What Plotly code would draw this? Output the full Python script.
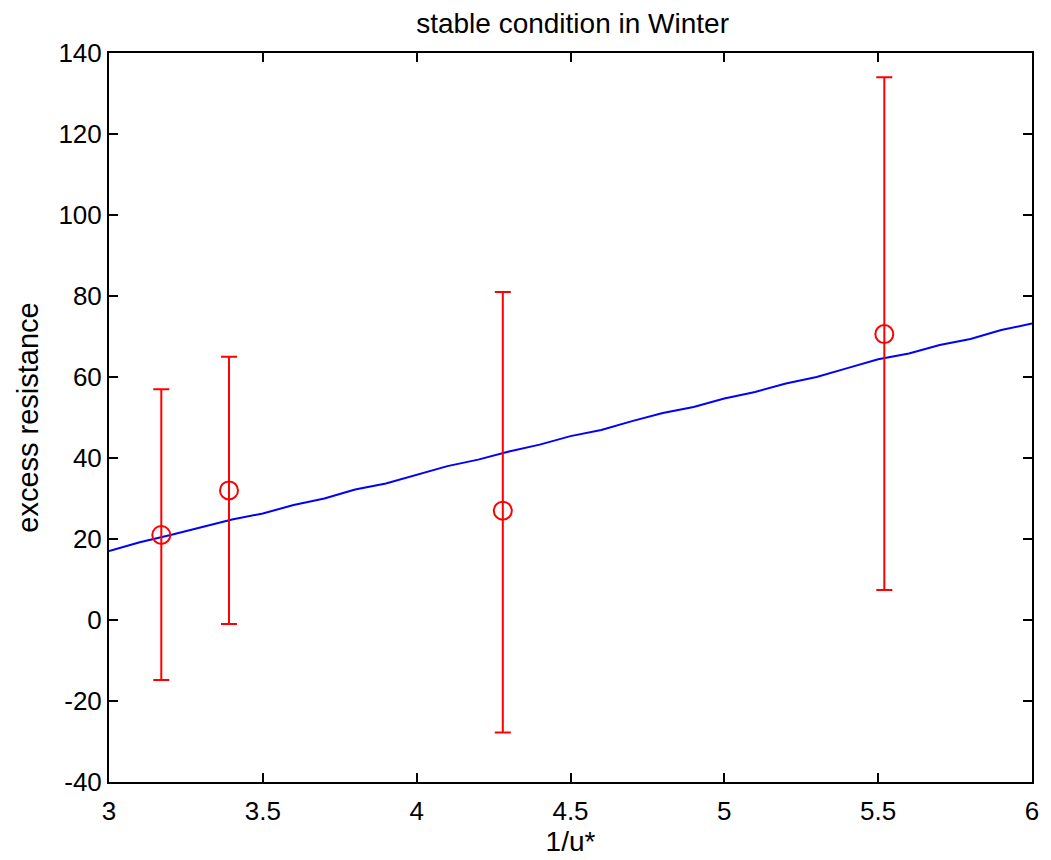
import plotly.graph_objects as go

# Observed points with error bars
obs_x = [3.17, 3.39, 4.28, 5.52]
obs_y = [21.0, 32.0, 27.0, 70.6]
err_hi = [57.0, 65.0, 81.0, 134.0]
err_lo = [-14.8, -1.0, -27.8, 7.4]

# Fitted curve
fit_x = [3.0, 3.1, 3.2, 3.3, 3.4, 3.5, 3.6, 3.7, 3.8, 3.9, 4.0, 4.1, 4.2, 4.3, 4.4, 4.5,
         4.6, 4.7, 4.8, 4.9, 5.0, 5.1, 5.2, 5.3, 5.4, 5.5, 5.6, 5.7, 5.8, 5.9, 6.0]
fit_y = [17.0, 19.2, 21.0, 22.9, 24.8, 26.3, 28.4, 30.0, 32.2, 33.7, 35.9, 38.0, 39.6, 41.6,
         43.3, 45.4, 46.9, 49.1, 51.1, 52.6, 54.7, 56.3, 58.4, 60.0, 62.2, 64.4, 65.8, 67.9,
         69.4, 71.6, 73.2]

x_ticks = [3, 3.5, 4, 4.5, 5, 5.5, 6]
y_ticks = [-40, -20, 0, 20, 40, 60, 80, 100, 120, 140]

FONT = "Liberation Sans, Arial, sans-serif"

fig = go.Figure()
fig.add_trace(go.Scatter(
    x=fit_x, y=fit_y, mode="lines",
    line=dict(color="#0000ff", width=2),
    showlegend=False, hoverinfo="skip",
))
fig.add_trace(go.Scatter(
    x=obs_x, y=obs_y, mode="markers",
    marker=dict(symbol="circle-open", size=18, color="#ff0000", line=dict(width=2, color="#ff0000")),
    error_y=dict(
        type="data", symmetric=False,
        array=[h - y for h, y in zip(err_hi, obs_y)],
        arrayminus=[y - l for l, y in zip(err_lo, obs_y)],
        color="#ff0000", thickness=2, width=8,
    ),
    showlegend=False,
))

axis_common = dict(
    showline=True, linecolor="black", linewidth=2, mirror="ticks",
    ticks="inside", ticklen=9, tickwidth=1.5, tickcolor="black",
    showgrid=False, zeroline=False,
    tickfont=dict(family=FONT, size=26, color="black"),
)

fig.update_layout(
    width=1051, height=860,
    margin=dict(l=109, r=14, t=53, b=76),
    paper_bgcolor="white", plot_bgcolor="white",
    font=dict(family=FONT, size=26, color="black"),
    title=dict(text="stable condition in Winter", x=0.5448, xanchor="center",
               y=1 - 23 / 860, yanchor="middle", yref="container",
               font=dict(family=FONT, size=28, color="black")),
    xaxis=dict(range=[3, 6], tickvals=x_ticks, ticktext=[f"{v:g}" for v in x_ticks],
               title=dict(text="1/u*", standoff=2, font=dict(family=FONT, size=28)),
               ticklabelstandoff=5, **axis_common),
    yaxis=dict(range=[-40, 140], tickvals=y_ticks, ticktext=[str(v) for v in y_ticks],
               title=dict(text="excess resistance", standoff=11, font=dict(family=FONT, size=29)),
               ticklabelstandoff=0, **axis_common),
)

fig.write_html("out.html")
